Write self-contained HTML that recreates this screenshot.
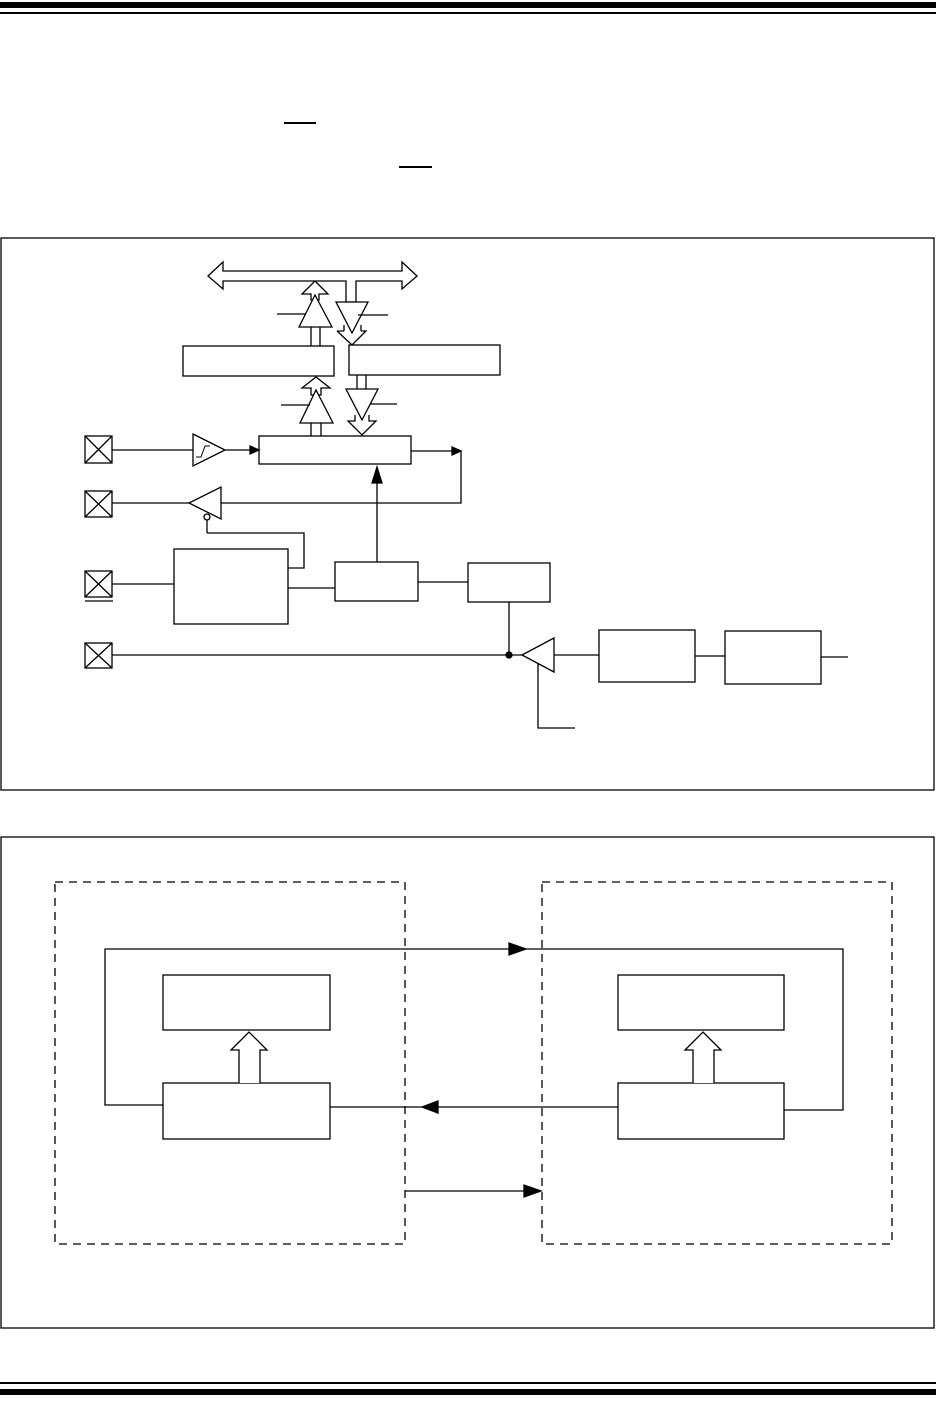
<!DOCTYPE html>
<html><head><style>html,body{margin:0;padding:0;background:#fff;}svg{display:block;}</style></head>
<body>
<svg width="936" height="1411" viewBox="0 0 936 1411" xmlns="http://www.w3.org/2000/svg" fill="none" stroke="#000" stroke-width="1.3">
<!-- header rules -->
<rect x="0" y="2" width="936" height="6" fill="#000" stroke="none"/>
<rect x="0" y="12" width="936" height="2" fill="#000" stroke="none"/>
<rect x="284" y="122" width="32" height="2" fill="#000" stroke="none"/>
<rect x="399" y="166" width="33" height="2" fill="#000" stroke="none"/>
<!-- footer rules -->
<rect x="0" y="1382" width="936" height="2" fill="#000" stroke="none"/>
<rect x="0" y="1389" width="936" height="6" fill="#000" stroke="none"/>

<!-- frame 1 -->
<rect x="1" y="238" width="933" height="552"/>
<!-- bus double arrow -->
<polygon points="208,276 223,262 223,271 402,271 402,262 417,276 402,289 402,281 356,281 356,302 346,302 346,281 223,281 223,289" fill="#fff"/>
<!-- upper up arrow -->
<path d="M315,281 L328,294 L319,294 L319,300 L311,300 L311,294 L302,294 Z" fill="#fff"/>
<line x1="311" y1="327" x2="311" y2="346"/><line x1="320" y1="327" x2="320" y2="346"/>
<polygon points="299,327 332,327 315,295" fill="#fff"/>
<line x1="277" y1="314" x2="306" y2="314"/>
<!-- upper down arrow -->
<polygon points="336,302 368,302 352,333" fill="#fff"/>
<path d="M344,331 L344,325 M361,331 L361,325 M337,331 L344,331 M361,331 L366,331 L352,345 L337,331"/>
<line x1="358" y1="315" x2="388" y2="315"/>
<!-- registers -->
<rect x="183" y="346" width="151" height="30" fill="#fff"/>
<rect x="349" y="345" width="151" height="30" fill="#fff"/>
<!-- lower up arrow -->
<path d="M316,377 L330,388 L321,388 L321,395 L311,395 L311,388 L302,388 Z" fill="#fff"/>
<line x1="311" y1="423" x2="311" y2="436"/><line x1="321" y1="423" x2="321" y2="436"/>
<polygon points="300,423 333,423 316,390" fill="#fff"/>
<line x1="281" y1="405" x2="310" y2="405"/>
<!-- lower down arrow -->
<line x1="357" y1="375" x2="357" y2="389"/><line x1="366" y1="375" x2="366" y2="389"/>
<polygon points="346,389 378,389 362,420" fill="#fff"/>
<path d="M355,415 L355,421 L348,421 L362,435 L376,421 L369,421 L369,415"/>
<line x1="370" y1="404" x2="397" y2="404"/>
<!-- shift register -->
<rect x="259" y="436" width="152" height="28" fill="#fff"/>
<!-- pads -->
<g>
<rect x="85" y="436" width="27" height="27"/><path d="M85,436 L112,463 M112,436 L85,463"/>
<rect x="85" y="491" width="27" height="26"/><path d="M85,491 L112,517 M112,491 L85,517"/>
<rect x="85" y="571" width="27" height="26"/><path d="M85,571 L112,597 M112,571 L85,597"/>
<line x1="85" y1="601" x2="113" y2="601"/>
<rect x="85" y="643" width="27" height="25"/><path d="M85,643 L112,668 M112,643 L85,668"/>
</g>
<!-- input path -->
<line x1="112" y1="450" x2="193" y2="450"/>
<polygon points="193,434 225,450 193,466" fill="#fff"/>
<path d="M196,457 L201,457 L205,446 L210,446" stroke-width="1"/>
<line x1="225" y1="450" x2="252" y2="450"/>
<polygon points="259,450 250,446 250,454" fill="#000"/>
<!-- output path -->
<line x1="411" y1="451" x2="454" y2="451"/>
<polygon points="461,451 452,447 452,455" fill="#000"/>
<path d="M461,451 L461,503 L221,503"/>
<polygon points="221,487 221,519 189,503" fill="#fff"/>
<line x1="112" y1="503" x2="189" y2="503"/>
<circle cx="207" cy="517" r="3" fill="#fff"/>
<path d="M207,520 L207,533 M207,533 L304,533 L304,568 L288,568"/>
<!-- control blocks -->
<rect x="174" y="549" width="114" height="75" fill="#fff"/>
<line x1="112" y1="584" x2="174" y2="584"/>
<line x1="288" y1="588" x2="335" y2="588"/>
<rect x="335" y="562" width="83" height="39" fill="#fff"/>
<line x1="418" y1="582" x2="468" y2="582"/>
<rect x="468" y="563" width="82" height="39" fill="#fff"/>
<line x1="377" y1="562" x2="377" y2="482"/>
<polygon points="377,467 372,483 382,483" fill="#000"/>
<line x1="509" y1="602" x2="509" y2="655"/>
<line x1="112" y1="655" x2="522" y2="655"/>
<circle cx="509" cy="655" r="3" fill="#000"/>
<polygon points="554,638 554,672 522,655" fill="#fff"/>
<path d="M538,664 L538,728 L575,728"/>
<line x1="554" y1="655" x2="599" y2="655"/>
<rect x="599" y="630" width="96" height="52" fill="#fff"/>
<line x1="695" y1="656" x2="725" y2="656"/>
<rect x="725" y="631" width="96" height="53" fill="#fff"/>
<line x1="821" y1="657" x2="848" y2="657"/>

<!-- frame 2 -->
<rect x="1" y="837" width="933" height="491"/>
<rect x="55" y="882" width="350" height="362" stroke-dasharray="8,6"/>
<rect x="542" y="882" width="350" height="362" stroke-dasharray="8,6"/>
<rect x="163" y="975" width="167" height="55" fill="#fff"/>
<rect x="163" y="1083" width="167" height="56" fill="#fff"/>
<rect x="618" y="975" width="166" height="55" fill="#fff"/>
<rect x="618" y="1083" width="166" height="56" fill="#fff"/>
<path d="M239,1083 L239,1050 L231,1050 L249,1032 L267,1050 L260,1050 L260,1083" fill="#fff"/>
<path d="M693,1083 L693,1050 L685,1050 L703,1032 L721,1050 L714,1050 L714,1083" fill="#fff"/>
<path d="M163,1105 L105,1105 L105,949 L843,949 L843,1110 L784,1110"/>
<polygon points="526,949 509,943 509,955" fill="#000"/>
<line x1="330" y1="1107" x2="618" y2="1107"/>
<polygon points="422,1107 438,1101 438,1113" fill="#000"/>
<line x1="405" y1="1191" x2="528" y2="1191"/>
<polygon points="541,1191 524,1185 524,1197" fill="#000"/>
</svg>
</body></html>
